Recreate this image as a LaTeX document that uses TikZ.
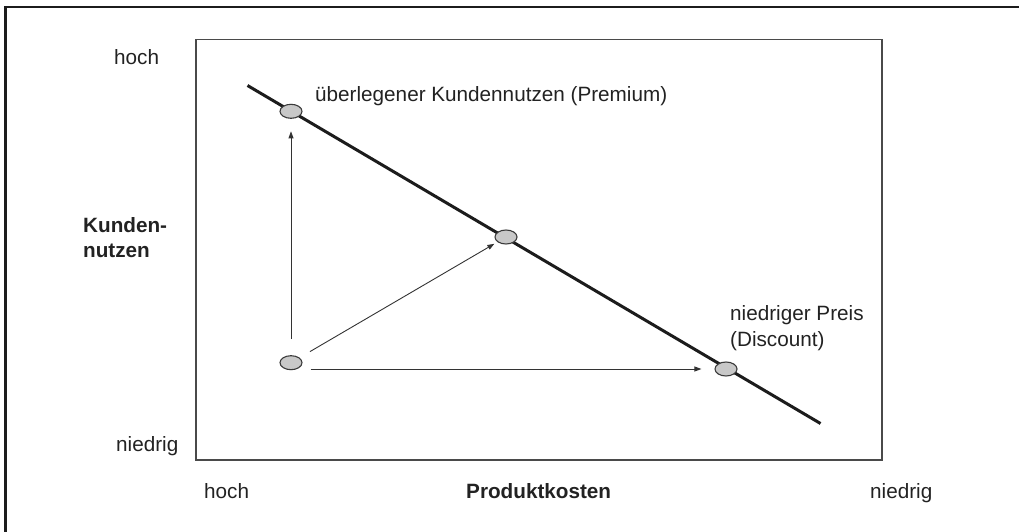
\documentclass[tikz,border=0pt]{standalone}
\usepackage{fontspec}
\setmainfont{Liberation Sans}
\usetikzlibrary{arrows.meta,calc,shapes.geometric}

\definecolor{framec}{HTML}{1C1C1C}
\definecolor{boxc}{HTML}{4A4A4A}
\definecolor{txtc}{HTML}{222222}
\definecolor{dotfill}{HTML}{C8C8C8}
\definecolor{dotline}{HTML}{3A3A3A}
\definecolor{arrc}{HTML}{333333}

\tikzset{
  lbl/.style={inner sep=0pt, text=txtc, font=\fontsize{20.7}{24.8}\selectfont},
  boldlbl/.style={lbl, font=\fontsize{20.7}{24.8}\selectfont\bfseries},
  dot/.style={ellipse, draw=dotline, fill=dotfill, line width=1.1pt,
              minimum width=22pt, minimum height=14pt, inner sep=0pt},
  conn/.style={draw=arrc, line width=0.9pt, -{Triangle[length=7pt,width=5pt]}},
  frontier/.style={draw=black, line width=3pt}
}

\begin{document}
\begin{tikzpicture}[x=1pt,y=-1pt]
  \useasboundingbox (0,0) rectangle (1019,532);
  \clip (0,0) rectangle (1019,532);

  % outer frame (only its top and left sides fall inside the page)
  \draw[framec, line width=2.8pt] (5.5,545) -- (5.5,7) -- (1035,7);

  % plotting area
  \draw[boxc, line width=1.2pt] (196,39.5) rectangle (882,460);

  % axis labels
  \node[lbl, anchor=base west] (yhigh) at (114,65) {hoch};
  \node[lbl, anchor=base west] (ylow) at (116,451) {niedrig};
  \node[boldlbl, align=left, anchor=north west] (ylab) at (83,217) {Kunden-\\nutzen};
  \node[lbl, anchor=base west] (xhigh) at (204,498) {hoch};
  \node[boldlbl, anchor=base west] (xlab) at (466,498) {Produktkosten};
  \node[lbl, anchor=base west] (xlow) at (870,498) {niedrig};

  % value line
  \coordinate (la) at (247.5,85.5);
  \coordinate (lb) at (820.5,423.5);
  \draw[framec, line width=3pt] (la) -- (lb);

  % positions
  \node[dot] (p) at (291,111.3) {};
  \node[dot] (m) at (506,237) {};
  \node[dot] (d) at (726,369) {};
  \node[dot] (s) at (291,362.7) {};

  % position labels
  \node[lbl, anchor=base west] (tp) at (315,102) {überlegener Kundennutzen (Premium)};
  \node[lbl, align=left, anchor=north west, font=\fontsize{20.7}{26}\selectfont] (td) at (730,305) {niedriger Preis\\(Discount)};

  % moves from the starting position
  \draw[conn, shorten <=16pt, shorten >=12.5pt] (s.north) -- (p.south);
  \draw[conn, shorten <=12pt, shorten >=3.5pt] (s) -- (m);
  \draw[conn, shorten <=8pt, shorten >=13pt] (s.east |- d.west) -- (d.west);
\end{tikzpicture}
\end{document}
